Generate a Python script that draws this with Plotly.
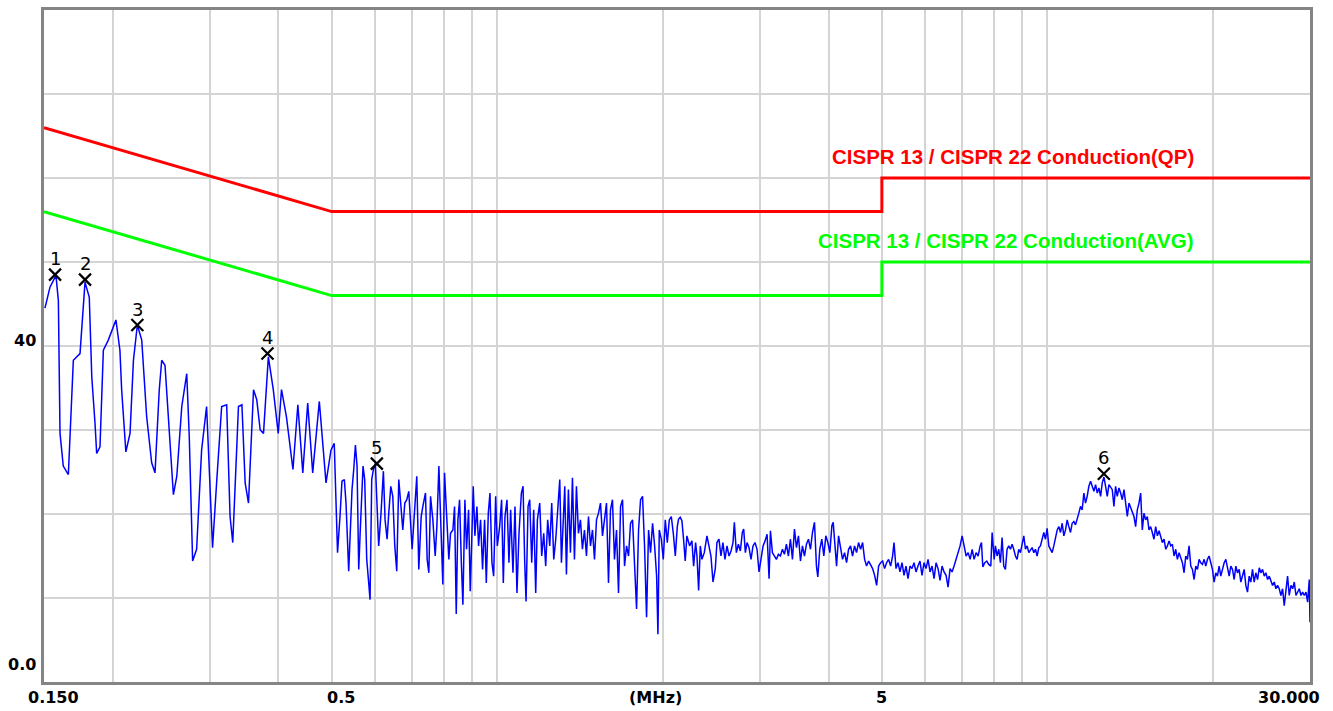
import math
import plotly.graph_objects as go

# ---------------- data ----------------
# Measured spectrum, MHz / dBuV, in four frequency bands
FREQ_LOW = [0.1506,0.1538,0.1577,0.1593,0.1604,0.1626,0.1661,0.1685,0.1696,0.1744,
            0.1764,0.1781,0.1813,0.1832,0.1857,0.1870,0.1896,0.1923,0.1963,0.2027,
            0.2061,0.2076,0.2113,0.2150,0.2181,0.2217,0.2258,0.2305,0.2354,0.2387,
            0.2430,0.2455,0.2489,0.2524,0.2578,0.2615,0.2670,0.2726,0.2755,0.2794,
            0.2841,0.2901,0.2962,0.3003,0.3037,0.3089,0.3155,0.3222,0.3268,0.3305,
            0.3385,0.3434,0.3481,0.3530,0.3605,0.3654,0.3707,0.3759,0.3836,0.3916,
            0.3998,0.4053,0.4137,0.4252,0.4340,0.4431,0.4523,0.4618,0.4748,0.4883,
            0.4985,0.5054,0.5124]
LEVEL_LOW = [44.5,47.0,48.4,45.4,29.6,25.7,24.7,33.6,38.3,39.1,
             44.3,47.6,45.8,36.3,30.8,27.2,28.0,39.5,40.7,43.1,
             39.5,34.8,27.4,29.6,38.3,42.5,40.7,31.6,26.1,24.9,
             34.8,38.3,37.7,31.6,22.3,24.5,32.8,36.7,29.2,14.4,
             15.8,27.6,32.8,23.7,16.0,23.7,32.8,33.0,19.7,16.6,
             32.8,33.0,23.7,21.3,34.8,33.6,30.0,29.6,38.7,34.8,
             29.6,34.8,31.6,25.3,33.0,24.9,33.2,24.9,33.4,23.7,
             27.6,28.4,15.4]

FREQ_MID = [0.5177,0.5220,0.5272,0.5309,0.5369,0.5406,0.5444,0.5483,0.5522,0.5560,
            0.5599,0.5630,0.5670,0.5701,0.5741,0.5790,0.5838,0.5871,0.5912,0.5954,
            0.6003,0.6054,0.6087,0.6147,0.6208,0.6252,0.6305,0.6349,0.6403,0.6457,
            0.6511,0.6565,0.6621,0.6667,0.6733,0.6790,0.6847,0.6904,0.6943,0.7001,
            0.7069,0.7139,0.7199,0.7272,0.7323,0.7404,0.7456,0.7509,0.7562,0.7636,
            0.7711,0.7765,0.7831,0.7896,0.7962,0.8018,0.8085,0.8164,0.8222,0.8304,
            0.8362,0.8421,0.8480,0.8539,0.8599,0.8659,0.8732,0.8793,0.8867,0.8929,
            0.8979,0.9042,0.9105,0.9182,0.9246,0.9324,0.9402,0.9482,0.9550,0.9630,
            0.9698,0.9779,0.9848,0.9931,1.0001,1.0098,1.0182,1.0255,1.0326,1.0413,
            1.0500,1.0574,1.0678,1.0768,1.0858,1.0950,1.1060,1.1138,1.1216,1.1279,
            1.1373,1.1453,1.1549,1.1646,1.1744,1.1826,1.1943,1.2043,1.2144,1.2245,
            1.2348,1.2454,1.2558,1.2665,1.2771,1.2879,1.2987,1.3078,1.3171,1.3263,
            1.3355,1.3466,1.3581,1.3696,1.3811,1.3926,1.4043,1.4161,1.4279,1.4401,
            1.4524,1.4646,1.4769,1.4893,1.5019,1.5146,1.5272,1.5401,1.5531,1.5661,
            1.5793,1.5926,1.6059,1.6193,1.6329,1.6469,1.6607,1.6750,1.6890,1.7032,
            1.7176,1.7319,1.7465,1.7612,1.7759,1.7911,1.8061,1.8213,1.8365,1.8519,
            1.8676,1.8833,1.8991,1.9152,1.9317,1.9480,1.9587,1.9697,1.9864,2.0031,
            2.0198,2.0369,2.0540,2.0713,2.0888,2.1063,2.1240]
LEVEL_MID = [19.7,23.9,24.1,21.3,13.2,18.3,22.9,25.3,28.2,25.7,
             13.4,17.4,21.3,25.7,24.1,14.6,11.8,9.8,24.1,25.3,
             26.0,20.9,16.2,20.1,25.1,19.3,17.0,20.1,23.3,22.1,
             16.2,13.2,24.1,21.7,18.1,21.3,21.7,22.7,19.3,15.8,
             20.1,24.5,13.4,19.7,20.9,22.5,14.6,13.0,22.1,19.3,
             15.0,18.5,25.7,18.1,11.6,24.9,20.1,14.6,17.7,18.1,
             20.9,8.1,19.3,21.7,14.6,9.2,21.7,15.8,20.5,10.8,
             16.2,23.3,17.4,20.9,16.2,19.3,13.4,19.3,11.8,20.1,
             22.5,14.2,12.6,22.1,16.2,18.5,21.7,11.8,19.7,21.7,
             14.2,20.5,13.0,20.9,10.6,17.7,22.5,23.3,14.2,9.6,
             20.9,21.7,14.2,20.5,10.6,19.3,21.3,15.0,17.7,13.8,
             19.3,16.2,21.3,14.6,17.0,20.5,24.1,14.2,18.1,23.3,
             12.8,22.9,15.4,24.3,14.6,23.3,17.7,19.3,15.8,18.1,
             15.0,19.7,16.2,18.1,14.6,19.3,20.1,21.3,17.4,19.3,
             21.3,11.8,20.5,21.7,14.6,18.1,10.6,20.9,21.7,13.8,
             16.2,15.0,18.9,19.3,14.6,8.7,18.1,21.7,22.1,16.2,
             7.7,18.1,15.4,18.9,16.2,12.6,5.7,18.1,17.0,14.6,
             19.3,16.6,19.3,19.7,17.7,15.0,18.5]

FREQ_HIGH = [2.1353,2.1503,2.1654,2.1804,2.1956,2.2111,2.2362,2.2579,2.2741,2.2932,
             2.3062,2.3223,2.3385,2.3548,2.3780,2.4046,2.4246,2.4453,2.4660,2.4901,
             2.5074,2.5286,2.5497,2.5711,2.5929,2.6152,2.6372,2.6594,2.6816,2.6968,
             2.7196,2.7426,2.7653,2.7883,2.8043,2.8239,2.8438,2.8676,2.8916,2.9157,
             2.9403,2.9654,2.9902,3.0160,3.0413,3.0668,3.0927,3.1186,3.1363,3.1625,
             3.1893,3.2160,3.2431,3.2705,3.2978,3.3255,3.3532,3.3814,3.4103,3.4389,
             3.4683,3.4973,3.5267,3.5565,3.5862,3.6163,3.6468,3.6772,3.7087,3.7398,
             3.7713,3.8027,3.8242,3.8560,3.8885,3.9217,3.9546,3.9887,4.0221,4.0560,
             4.0786,4.1017,4.1363,4.1713,4.2059,4.2409,4.2771,4.3133,4.3495,4.3857,
             4.4227,4.4597,4.4971,4.5352,4.5742,4.6126,4.6515,4.6904,4.7302,4.7700,
             4.8098,4.8505,4.8912,4.9324,4.9740,5.0156,5.0577,5.0998,5.1428,5.1867,
             5.2301,5.2604,5.3046,5.3493,5.3940,5.4398,5.4855,5.5313,5.5781,5.6249,
             5.6723,5.7202,5.7680,5.8164,5.8648,5.9143,5.9648,6.0148,6.0664,6.1173,
             6.1687,6.2207,6.2727,6.3254,6.3786,6.4318,6.4869,6.5413,6.5964,6.6514,
             6.7071,6.7640,6.8208,6.8783,6.9364,6.9959,7.0550,7.1135,7.1740,7.2345,
             7.2957,7.3562,7.4174,7.4808,7.5440,7.5858,7.6282,7.6923,7.7563,7.8216,
             7.8884,7.9323,8.0006]
LEVEL_HIGH = [19.4,19.6,19.2,17.0,14.4,17.4,16.2,16.8,13.8,16.6,
              15.0,10.9,16.2,14.6,15.4,17.4,16.2,15.0,11.9,13.5,
              16.6,17.0,15.0,16.6,14.6,16.2,15.0,15.6,16.6,19.0,
              15.4,16.4,15.6,17.8,18.2,15.4,16.6,16.0,14.6,16.2,
              16.6,15.8,13.1,14.6,16.2,16.8,17.6,12.3,18.0,15.4,
              15.0,14.6,15.2,15.0,15.8,15.2,16.4,15.0,17.0,14.6,
              18.2,16.0,17.4,14.4,16.2,15.0,16.4,17.0,15.8,17.8,
              19.0,13.8,12.5,15.8,17.0,15.0,17.4,16.6,15.4,18.6,
              19.0,17.0,13.8,17.4,16.2,14.6,15.4,14.2,15.8,16.2,
              15.0,16.2,15.4,16.6,15.8,16.6,14.6,13.8,14.4,14.0,
              13.5,12.7,11.5,13.8,14.2,14.4,13.5,14.2,14.6,13.8,
              15.0,16.6,13.5,14.2,13.1,14.2,12.7,13.8,12.3,13.8,
              13.5,14.2,13.1,13.8,14.4,12.7,14.2,13.5,14.6,13.1,
              13.8,12.3,14.2,13.5,12.1,13.8,13.1,12.7,11.3,13.5,
              13.1,13.8,14.6,15.4,16.2,17.4,16.2,15.0,15.4,14.6,
              15.8,14.6,15.4,15.0,16.2,16.6,13.7,14.2,14.4,14.0,
              13.8,17.8,14.6]

FREQ_TOP = [8.042,8.098,8.155,8.212,8.269,8.327,8.385,8.444,8.503,8.563,
            8.623,8.683,8.744,8.805,8.867,8.929,8.992,9.056,9.119,9.183,
            9.247,9.312,9.377,9.443,9.509,9.576,9.643,9.710,9.778,9.847,
            9.916,9.985,10.055,10.125,10.196,10.268,10.340,10.414,10.487,10.560,
            10.634,10.708,10.783,10.859,10.935,11.011,11.088,11.166,11.244,11.323,
            11.402,11.482,11.563,11.644,11.725,11.807,11.890,11.977,12.061,12.145,
            12.230,12.316,12.402,12.489,12.576,12.664,12.753,12.842,12.932,13.023,
            13.114,13.206,13.298,13.391,13.485,13.580,13.675,13.773,13.869,13.966,
            14.064,14.162,14.261,14.361,14.462,14.563,14.665,14.768,14.871,14.975,
            15.080,15.186,15.292,15.399,15.507,15.616,15.725,15.840,15.951,16.063,
            16.175,16.288,16.402,16.517,16.633,16.749,16.866,16.985,17.104,17.223,
            17.344,17.465,17.588,17.711,17.835,17.960,18.085,18.215,18.342,18.471,
            18.600,18.730,18.861,18.993,19.126,19.260,19.395,19.531,19.667,19.805,
            19.944,20.083,20.224,20.366,20.508,20.652,20.796,20.947,21.094,21.241,
            21.390,21.540,21.691,21.842,21.995,22.149,22.304,22.460,22.617,22.776,
            22.935,23.096,23.257,23.420,23.584,23.749,23.915,24.089,24.258,24.428,
            24.599,24.771,24.944,25.119,25.295,25.472,25.650,25.830,26.010,26.192,
            26.376,26.560,26.746,26.933,27.122,27.312,27.503,27.702,27.896,28.091,
            28.288,28.486,28.685,28.886,29.088,29.292,29.497,29.703,29.911,30.0]
LEVEL_TOP = [16.2,15.0,15.8,14.2,17.2,13.8,13.4,15.8,16.2,15.8,
             16.4,15.8,15.0,14.6,15.8,15.4,16.6,17.4,15.8,16.2,
             15.4,15.8,16.0,15.4,15.8,15.0,16.0,16.2,17.0,17.8,
             17.0,18.3,16.2,15.8,15.4,16.2,17.4,18.1,18.5,17.8,
             18.9,17.4,18.1,19.3,18.5,17.8,18.9,19.1,18.7,19.3,
             20.1,20.9,20.5,22.5,21.3,22.1,23.3,23.9,23.3,22.7,
             23.5,22.5,23.1,22.1,23.7,24.4,23.3,22.1,23.5,23.1,
             22.9,20.9,23.3,22.1,23.1,22.5,21.7,22.9,21.3,19.7,
             21.3,20.7,20.1,19.7,18.5,20.5,21.3,22.5,18.1,20.1,
             19.3,19.7,18.1,18.5,17.8,17.0,18.5,17.4,18.0,17.2,
             16.6,17.0,15.8,16.2,16.8,16.2,16.4,15.0,15.8,14.6,
             15.4,14.8,14.2,13.0,15.0,14.6,16.2,13.8,13.4,12.2,
             13.8,13.4,14.6,14.2,14.0,14.6,13.8,14.6,15.0,14.2,
             13.4,11.9,13.0,12.6,13.8,12.6,13.4,14.2,14.6,13.4,
             12.6,13.8,13.4,12.2,13.8,13.0,13.4,11.9,12.6,13.4,
             11.5,10.7,12.6,11.9,13.4,11.9,13.0,12.2,13.6,13.0,
             13.4,12.6,13.0,12.2,12.6,11.9,11.5,11.9,11.1,11.5,
             11.1,10.3,11.1,9.1,10.7,12.6,10.3,11.5,11.1,11.9,
             10.3,10.7,11.1,10.3,10.7,10.3,10.7,9.5,12.2,7.1]

# Limit lines (CISPR 22 class B conducted)
LIMIT_F = [0.15, 0.5, 5.0, 5.0, 30.0]
QP_LIMIT = [66, 56, 56, 60, 60]
AVG_LIMIT = [56, 46, 46, 50, 50]
QP_NAME = "CISPR 13 / CISPR 22 Conduction(QP)"
AVG_NAME = "CISPR 13 / CISPR 22 Conduction(AVG)"

# Peak markers
MARK_ID = ["1", "2", "3", "4", "5", "6"]
MARK_F = [0.1571, 0.1781, 0.2217, 0.3822, 0.604, 12.66]
MARK_L = [48.5, 47.9, 42.5, 39.1, 26.0, 24.8]

# Axes
X_MIN, X_MAX = 0.15, 30.0
Y_MIN, Y_MAX = 0, 80
GRID_F = [0.2, 0.3, 0.4, 0.5, 0.6, 0.7, 0.8, 0.9, 1, 2, 3, 4, 5, 6, 7, 8, 9, 10, 20]
X_LABELS = ["0.150", "0.5", "5", "30.000"]
X_LABEL_F = [0.15, 0.5, 5.0, 30.0]
X_UNIT = "(MHz)"
Y_LABELS = ["40", "0.0"]
Y_LABEL_V = [40, 0]

# ---------------- figure ----------------
for a, b in [(FREQ_LOW, LEVEL_LOW), (FREQ_MID, LEVEL_MID), (FREQ_HIGH, LEVEL_HIGH), (FREQ_TOP, LEVEL_TOP)]:
    assert len(a) == len(b), (len(a), len(b))

freq = FREQ_LOW + FREQ_MID + FREQ_HIGH + FREQ_TOP
level = LEVEL_LOW + LEVEL_MID + LEVEL_HIGH + LEVEL_TOP

fig = go.Figure()
fig.add_trace(go.Scatter(x=freq, y=level, mode="lines",
                         line=dict(color="#0000ff", width=1.5), hoverinfo="x+y"))
fig.add_trace(go.Scatter(x=LIMIT_F, y=QP_LIMIT, mode="lines",
                         line=dict(color="#ff0000", width=3)))
fig.add_trace(go.Scatter(x=LIMIT_F, y=AVG_LIMIT, mode="lines",
                         line=dict(color="#00ff00", width=3)))
fig.add_trace(go.Scatter(x=MARK_F, y=MARK_L, mode="markers",
                         marker=dict(symbol="x-thin", size=12, color="black",
                                     line=dict(color="black", width=2.2))))

LABEL_FONT = dict(family="DejaVu Sans", size=16, color="black")
ann = []
# x tick labels
shifts = {"0.150": ("left", -18), "0.5": ("center", 9), "5": ("center", 0), "30.000": ("right", 12)}
for t, f in zip(X_LABELS, X_LABEL_F):
    anchor, dx = shifts[t]
    ann.append(dict(x=math.log10(f), xref="x", y=0, yref="paper", text="<b>%s</b>" % t,
                    showarrow=False, xanchor=anchor, yanchor="top", xshift=dx, yshift=-4,
                    font=LABEL_FONT))
ann.append(dict(x=(655 - 44) / 1266, xref="paper", y=0, yref="paper", text="<b>%s</b>" % X_UNIT,
                showarrow=False, xanchor="center", yanchor="top", yshift=-4, font=LABEL_FONT))
# y tick labels
yshifts = {"40": 6, "0.0": 18}
for t, v in zip(Y_LABELS, Y_LABEL_V):
    ann.append(dict(x=0, xref="paper", y=v, yref="y", text="<b>%s</b>" % t, showarrow=False,
                    xanchor="right", yanchor="middle", xshift=-6, yshift=yshifts[t], font=LABEL_FONT))
# limit names
ann.append(dict(x=(1196 - 44) / 1266, xref="paper", y=62.6, yref="y", text="<b>%s</b>" % QP_NAME,
                showarrow=False, xanchor="right", yanchor="middle",
                font=dict(family="Liberation Sans", size=20.5, color="#ff0000")))
ann.append(dict(x=(1196 - 44) / 1266, xref="paper", y=52.6, yref="y", text="<b>%s</b>" % AVG_NAME,
                showarrow=False, xanchor="right", yanchor="middle",
                font=dict(family="Liberation Sans", size=20.5, color="#00ff00")))
# marker numbers
for t, f, l in zip(MARK_ID, MARK_F, MARK_L):
    ann.append(dict(x=math.log10(f), xref="x", y=l, yref="y", text=t, showarrow=False,
                    xanchor="center", yanchor="middle", yshift=16,
                    font=dict(family="DejaVu Sans", size=18, color="black")))

axis_common = dict(showgrid=True, gridcolor="#d4d4d4", gridwidth=2, zeroline=False,
                   showline=True, mirror=True, linecolor="#858585", linewidth=3,
                   ticks="", showticklabels=False)
fig.update_layout(
    width=1333, height=711,
    margin=dict(l=44, r=23, t=7, b=29),
    paper_bgcolor="white", plot_bgcolor="white",
    showlegend=False,
    xaxis=dict(type="log", range=[math.log10(X_MIN), math.log10(X_MAX)],
               tickvals=GRID_F, **axis_common),
    yaxis=dict(range=[Y_MIN, Y_MAX], tick0=0, dtick=10, **axis_common),
    annotations=ann,
)

fig.write_html("out.html", config={"displayModeBar": False},
               post_script="document.body.style.margin='0px';document.body.style.overflow='hidden';")
